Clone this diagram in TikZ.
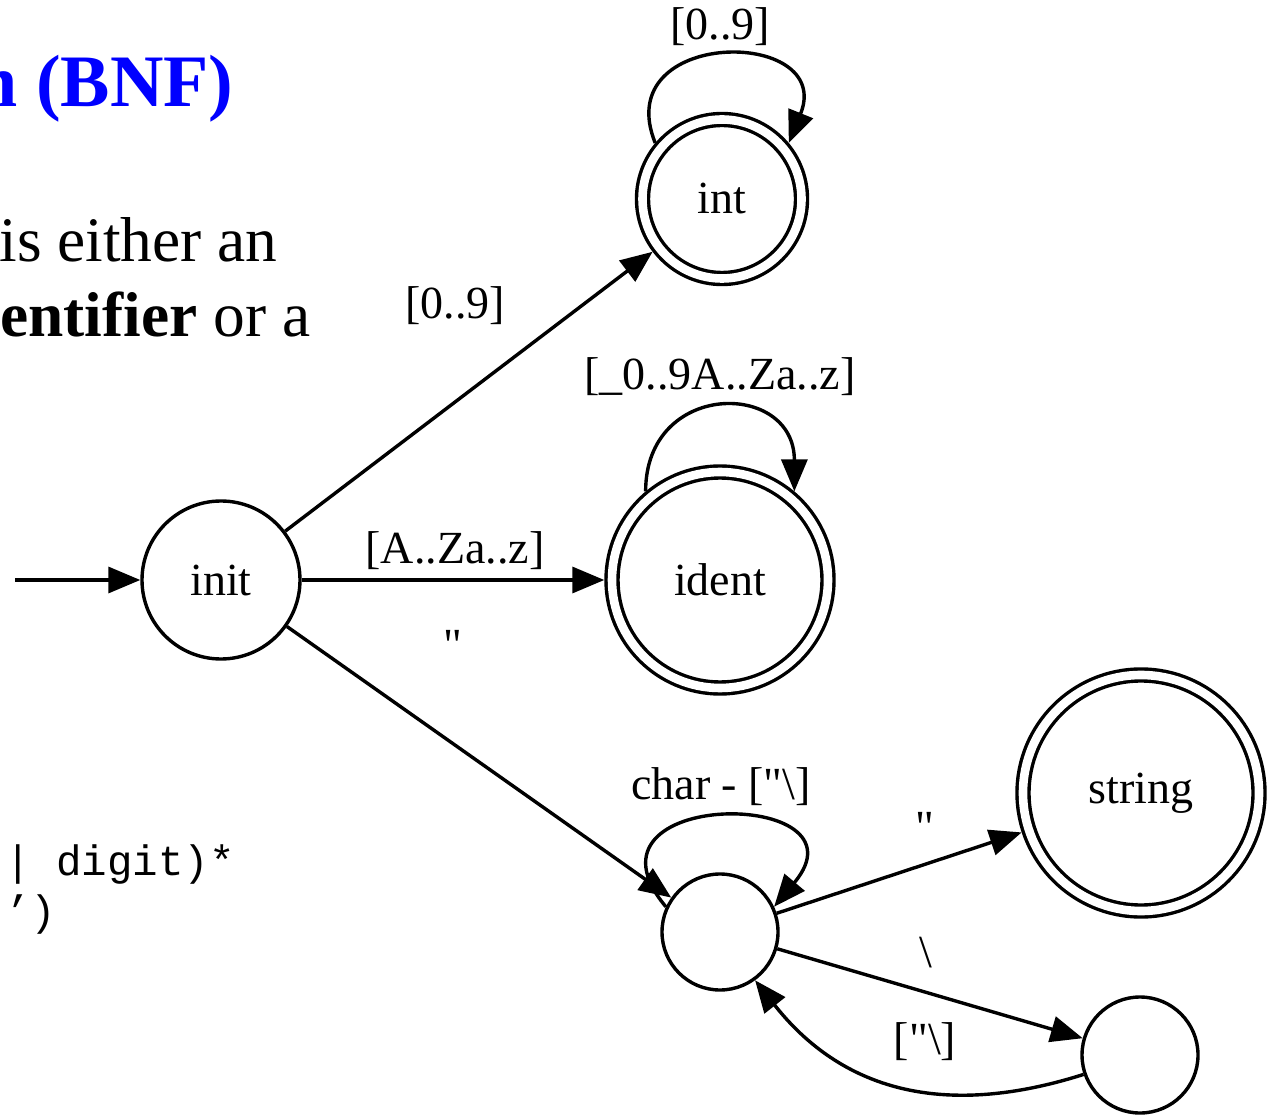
\documentclass[tikz,border=0pt]{standalone}
\usepackage{fontspec}
\setmainfont{Liberation Serif}
\setmonofont{Liberation Mono}
% serif family for the automaton, without the TeX quote mapping
\newfontfamily\gvserif{Liberation Serif}
\usetikzlibrary{arrows.meta}

% fonts for the automaton and for the slide text
\newcommand{\gvfont}{\gvserif\fontsize{23}{27}\selectfont}
\newcommand{\titlefont}{\fontsize{37}{44}\selectfont\bfseries}
\newcommand{\bodyfont}{\fontsize{31.7}{38}\selectfont}
\newcommand{\codefont}{\fontsize{21.25}{25}\selectfont\ttfamily}
% straight double quote
\newcommand{\dq}{\char"22\relax}

\tikzset{
  state/.style={circle, draw, line width=1.7pt, inner sep=0pt, font=\gvfont},
  accept/.style={state, double, double distance=4.3pt, outer sep=3.85pt},
  edge/.style={line width=1.7pt, -{Triangle[length=16pt,width=13pt]}},
  lbl/.style={inner sep=0pt, font=\gvfont},
  slidetext/.style={inner sep=0pt, anchor=base west},
}

\begin{document}
\begin{tikzpicture}[x=0.5pt,y=0.5pt]
\useasboundingbox (0,0) rectangle (1268,1115);

% slide text on the left
\node[inner sep=0pt, anchor=base east, text=blue, font=\titlefont] (title) at (234,1008) {n (BNF)};
\node[slidetext, font=\bodyfont] (line1) at (-1,853) {is either an};
\node[slidetext, font=\bodyfont] (line2) at (0,778) {\textbf{entifier} or a};
\node[slidetext, font=\codefont] (code1) at (5,240) {| digit)*};
\node[slidetext, font=\codefont] (code2) at (5,190) {’)};

% states
\node[state, minimum size=79pt] (init) at (221,535) {init};
\node[accept, minimum size=79.5pt] (int) at (722,916) {int};
\node[accept, minimum size=108pt] (ident) at (720,535) {ident};
\node[accept, minimum size=118pt] (string) at (1141,322) {string};
\node[state, minimum size=58pt] (chr) at (720,183) {};
\node[state, minimum size=58pt] (esc) at (1140,60) {};

% initial arrow
\coordinate (start) at (15,535);
\draw[edge] (start) -- (init);

% transitions
\draw[edge] (init) -- (int);
\draw[edge] (int.140) to[out=112, in=68, looseness=2.4] (int.40);
\draw[edge] (init) -- (ident);
\draw[edge] (ident.130) to[out=90, in=90, looseness=1.92] (ident.50);
\draw[edge] (init) -- (chr);
\draw[edge] (chr.155) to[out=130, in=50, looseness=3.7] (chr.25);
\draw[edge] (chr) -- (string);
\draw[edge] (chr) -- (esc);
\draw[edge] (esc.199) .. controls (940,-5) and (840,27) .. (chr.-54);

% transition labels
\node[lbl] (l1) at (720,1088) {[0..9]};
\node[lbl] (l2) at (455,809) {[0..9]};
\node[lbl] (l3) at (720,738) {[\_0..9A..Za..z]};
\node[lbl] (l4) at (455,564) {[A..Za..z]};
\node[lbl, anchor=north] (l5) at (453,485) {\dq};
\node[lbl] (l6) at (721,328) {char - [\dq\textbackslash]};
\node[lbl, anchor=north] (l7) at (925,303) {\dq};
\node[lbl, anchor=north] (l8) at (926,178) {\textbackslash};
\node[lbl] (l9) at (925,73) {[\dq\textbackslash]};
\end{tikzpicture}
\end{document}
